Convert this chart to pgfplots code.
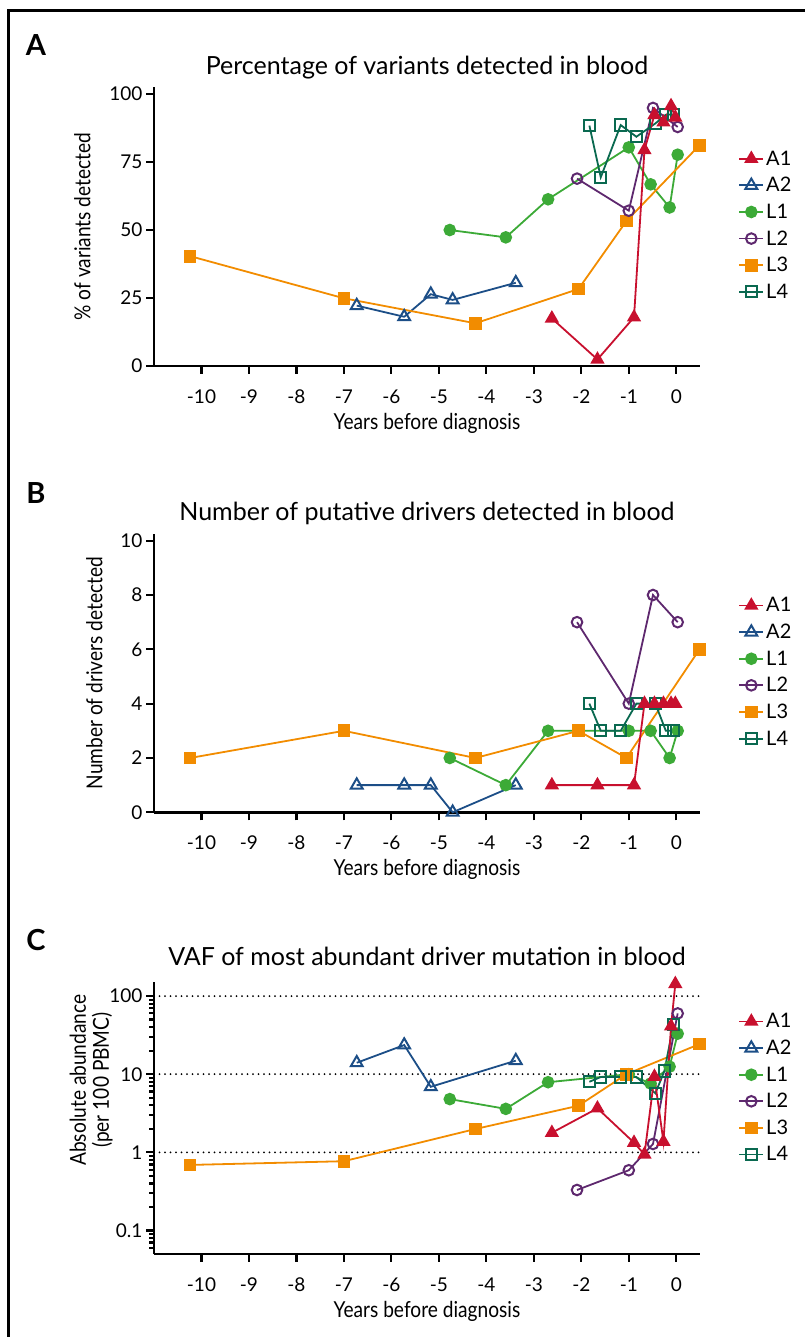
\documentclass[border=0pt]{standalone}
\usepackage{fontspec}
\setmainfont{Lato}
\newfontfamily\condfont{Lato}[FakeStretch=0.87]
\usepackage{pgfplots}
\pgfplotsset{compat=1.18}

\definecolor{cA1}{RGB}{200,16,46}
\definecolor{cA2}{RGB}{28,78,135}
\definecolor{cL1}{RGB}{60,170,55}
\definecolor{cL2}{RGB}{94,40,110}
\definecolor{cL3}{RGB}{242,140,0}
\definecolor{cL4}{RGB}{10,105,80}

\pgfplotsset{
  panel/.style={
    scale only axis, width=546bp,
    xmin=-11, xmax=0.5,
    axis lines*=left,
    axis line style={line width=2.6bp, black},
    tick style={line width=2.2bp, black},
    tick align=outside,
    major tick length=8bp, minor tick length=5bp,
    xtick={-10,-9,-8,-7,-6,-5,-4,-3,-2,-1,0},
    xticklabels={-10,-9,-8,-7,-6,-5,-4,-3,-2,-1,0},
    ticklabel style={font=\fontsize{19bp}{22bp}\selectfont},
    xticklabel shift=12bp,
    label style={font=\condfont\fontsize{22bp}{23bp}\selectfont},
    xlabel shift=3bp,
    title style={font=\fontsize{25bp}{28bp}\selectfont, at={(0.5,1)}, anchor=base, yshift=7bp},
    xlabel={Years before diagnosis},
    clip=false,
    legend style={draw=none, fill=none, font=\fontsize{20bp}{22bp}\selectfont,
      anchor=north west, row sep=6.7bp, inner sep=0pt},
    legend cell align=left,
    legend image code/.code={\draw[mark repeat=2,mark phase=2] plot coordinates {(0bp,0bp)(12bp,0bp)(24bp,0bp)};},
  },
  sA1/.style={cA1, line width=1.8bp, mark=triangle*, mark size=6.5bp, mark options={solid, fill=cA1}},
  sA2/.style={cA2, line width=1.8bp, mark=triangle, mark size=6.8bp, mark options={solid, line width=2bp}},
  sL1/.style={cL1, line width=1.8bp, mark=*, mark size=5.4bp, mark options={solid, fill=cL1}},
  sL2/.style={cL2, line width=1.8bp, mark=o, mark size=5.3bp, mark options={solid, line width=2bp}},
  sL3/.style={cL3, line width=1.8bp, mark=square*, mark size=5.5bp, mark options={solid, fill=cL3}},
  sL4/.style={cL4, line width=1.8bp, mark=square, mark size=5.6bp, mark options={solid, line width=2bp}},
}

\newcommand{\legendimages}{%
  \addlegendimage{sA1}\addlegendimage{sA2}\addlegendimage{sL1}%
  \addlegendimage{sL2}\addlegendimage{sL3}\addlegendimage{sL4}%
  \legend{A1,A2,L1,L2,L3,L4}}

\begin{document}
\begin{tikzpicture}
\useasboundingbox (0bp,0bp) rectangle (805bp,1337bp);
\draw[line width=3bp] (8.5bp,-10bp) -- (8.5bp,1326.5bp) -- (815bp,1326.5bp);

\node[font=\bfseries\fontsize{29bp}{30bp}\selectfont] at (36bp,1292bp) {A};
\node[font=\bfseries\fontsize{29bp}{30bp}\selectfont] at (36bp,844bp) {B};
\node[font=\bfseries\fontsize{29bp}{30bp}\selectfont] at (36bp,397bp) {C};

% Panel A
\begin{axis}[panel,
  at={(154bp,971bp)}, anchor=south west, height=279bp,
  ymin=0, ymax=102.6,
  ytick={0,25,50,75,100}, yticklabels={0,25,50,75,100},
  ylabel={\% of variants detected}, ylabel shift=12bp,
  title={Percentage of variants detected in blood},
  legend style={at={(1.07,0.779)}},
]
\legendimages
\addplot[sA2, forget plot] coordinates {(-6.73,22.2)(-5.73,18.1)(-5.17,26.4)(-4.71,24.3)(-3.38,30.6)};
\addplot[sL1, forget plot] coordinates {(-4.77,50)(-3.59,47.3)(-2.70,61.3)(-1.0,80.4)(-0.54,66.8)(-0.14,58.3)(0.03,77.7)};
\addplot[sL3, forget plot] coordinates {(-10.24,40.4)(-7.0,24.9)(-4.23,15.7)(-2.06,28.3)(-1.05,53.3)(0.49,81.2)};
\addplot[sL2, forget plot] coordinates {(-2.09,68.9)(-1.0,57.1)(-0.49,94.9)(0.03,87.9)};
\addplot[sL4, forget plot] coordinates {(-1.83,88.4)(-1.59,69.4)(-1.17,88.6)(-0.84,84.3)(-0.44,89.2)(-0.22,92.4)(-0.06,92.5)};
\addplot[sA1, forget plot] coordinates {(-2.62,17.5)(-1.66,2.4)(-0.89,17.9)(-0.67,79.4)(-0.46,92.3)(-0.27,89.6)(-0.11,95.6)(-0.02,91.4)};
\end{axis}

% Panel B
\begin{axis}[panel,
  at={(154bp,524.7bp)}, anchor=south west, height=278.4bp,
  ymin=0, ymax=10.25,
  ytick={0,2,4,6,8,10}, yticklabels={0,2,4,6,8,10},
  ylabel={Number of drivers detected}, ylabel shift=11bp,
  title={Number of putative drivers detected in blood},
  legend style={at={(1.07,0.779)}},
]
\legendimages
\addplot[sA2, forget plot] coordinates {(-6.73,1)(-5.73,1)(-5.17,1)(-4.71,0)(-3.38,1)};
\addplot[sL1, forget plot] coordinates {(-4.77,2)(-3.59,1)(-2.70,3)(-1.0,3)(-0.54,3)(-0.14,2)(0.03,3)};
\addplot[sL3, forget plot] coordinates {(-10.24,2)(-7.0,3)(-4.23,2)(-2.06,3)(-1.05,2)(0.49,6)};
\addplot[sL2, forget plot] coordinates {(-2.09,7)(-1.0,4)(-0.49,8)(0.03,7)};
\addplot[sL4, forget plot] coordinates {(-1.83,4)(-1.59,3)(-1.17,3)(-0.84,4)(-0.44,4)(-0.22,3)(-0.06,3)};
\addplot[sA1, forget plot] coordinates {(-2.62,1)(-1.66,1)(-0.89,1)(-0.67,4)(-0.46,4)(-0.27,4)(-0.11,4)(-0.02,4)};
\end{axis}

% Panel C
\begin{axis}[panel,
  at={(154bp,83bp)}, anchor=south west, height=271.7bp,
  ymode=log, ymin=0.05, ymax=150,
  ytick={0.1,1,10,100}, yticklabels={0.1,1,10,100},
  minor ytick={0.06,0.07,0.08,0.09,0.2,0.3,0.4,0.5,0.6,0.7,0.8,0.9,2,3,4,5,6,7,8,9,20,30,40,50,60,70,80,90},
  extra y ticks={1,10,100}, extra y tick labels={},
  extra y tick style={grid=major, major grid style={black, line width=2bp, line cap=round, dash pattern=on 0bp off 5.5bp}},
  ylabel={Absolute abundance\\(per 100 PBMC)}, ylabel shift=-26bp,
  ylabel style={align=center, at={(ticklabel cs:0.64)}},
  title={VAF of most abundant driver mutation in blood},
  title style={yshift=3.5bp},
  legend style={at={(1.07,0.893)}},
]
\legendimages
\addplot[sA2, forget plot] coordinates {(-6.73,14.0)(-5.73,23.6)(-5.17,6.9)(-3.38,14.9)};
\addplot[sL1, forget plot] coordinates {(-4.77,4.8)(-3.59,3.6)(-2.70,7.9)(-1.0,10)(-0.54,7.6)(-0.14,12.5)(0.03,33)};
\addplot[sL3, forget plot] coordinates {(-10.24,0.69)(-7.0,0.77)(-4.23,1.99)(-2.06,3.95)(-1.05,10)(0.49,24.3)};
\addplot[sL2, forget plot] coordinates {(-2.09,0.33)(-1.0,0.59)(-0.49,1.28)(0.03,60)};
\addplot[sL4, forget plot] coordinates {(-1.83,8.0)(-1.59,9.2)(-1.17,9.2)(-0.84,9.2)(-0.44,5.7)(-0.25,11)(-0.06,43)};
\addplot[sA1, forget plot] coordinates {(-2.62,1.78)(-1.66,3.66)(-0.89,1.33)(-0.67,0.94)(-0.46,9.3)(-0.27,1.37)(-0.11,41)(-0.02,143)};
\end{axis}
\end{tikzpicture}
\end{document}
